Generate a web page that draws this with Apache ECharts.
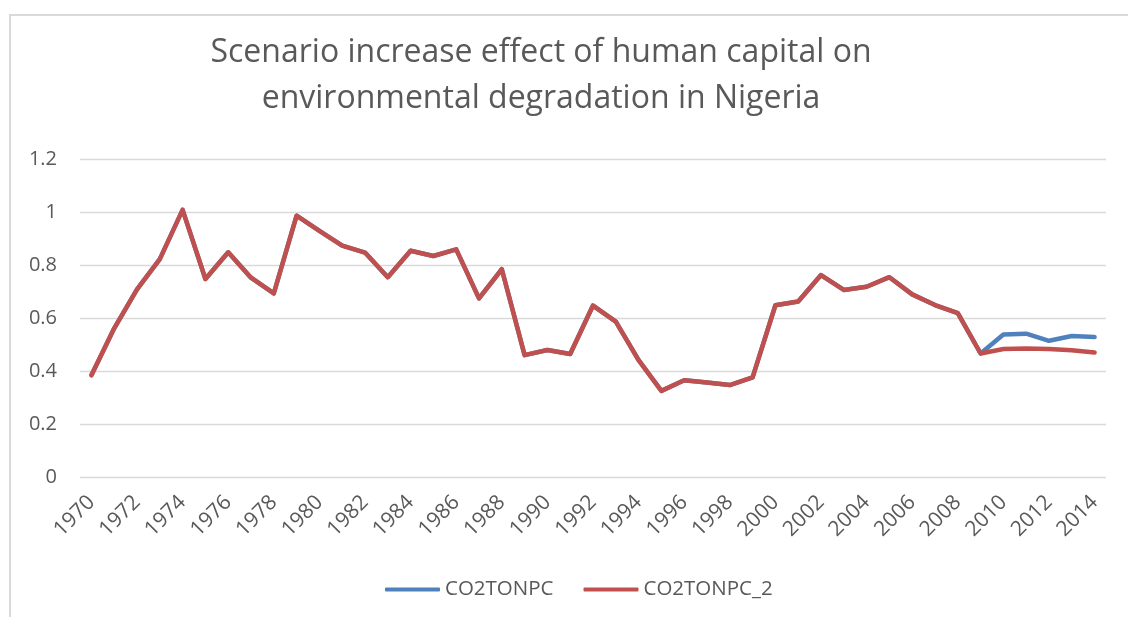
<!DOCTYPE html>
<html>
<head>
<meta charset="utf-8">
<script src="https://cdn.jsdelivr.net/npm/echarts@6/dist/echarts.min.js"></script>
<style>
html,body{margin:0;padding:0;background:#fff;}
#frame{position:absolute;left:9px;top:14px;width:1200px;height:700px;border-left:2px solid #d9d9d9;border-top:2px solid #d9d9d9;}
#chart{position:absolute;left:0;top:0;width:1128px;height:617px;}
</style>
</head>
<body>
<div id="frame"></div>
<div id="chart"></div>
<script>
const years = [];
for (let y = 1970; y <= 2014; y++) years.push(String(y));

const co2tonpc = [0.384,0.561,0.708,0.822,1.008,0.747,0.848,0.752,0.693,0.986,
  0.929,0.873,0.847,0.754,0.854,0.834,0.859,0.674,0.784,0.460,
  0.479,0.464,0.647,0.586,0.441,0.325,0.365,0.357,0.347,0.376,
  0.648,0.662,0.762,0.706,0.718,0.754,0.689,0.649,0.618,0.466,
  0.538,0.541,0.514,0.532,0.528];

const co2tonpc2 = [0.384,0.561,0.708,0.822,1.008,0.747,0.848,0.752,0.693,0.986,
  0.929,0.873,0.847,0.754,0.854,0.834,0.859,0.674,0.784,0.460,
  0.479,0.464,0.647,0.586,0.441,0.325,0.365,0.357,0.347,0.376,
  0.648,0.662,0.762,0.706,0.718,0.754,0.689,0.649,0.618,0.466,
  0.483,0.485,0.483,0.478,0.470];

const titleLines = "Scenario increase effect of human capital on\nenvironmental degradation in Nigeria";

const chart = echarts.init(document.getElementById('chart'), null, {renderer:'canvas'});
const textColor = '#595959';
chart.setOption({
  backgroundColor: 'transparent',
  animation: false,
  title: {
    text: titleLines,
    left: 536, top: 25, textAlign: 'center',
    textStyle: {fontFamily: 'Open Sans', fontWeight: 'normal', fontSize: 32, color: textColor, lineHeight: 46}
  },
  legend: {
    top: 574, left: 380,
    itemWidth: 55, itemHeight: 4, itemGap: 30,
    icon: 'roundRect',
    textStyle: {fontFamily: 'Open Sans', fontSize: 20.5, color: textColor},
    data: ['CO2TONPC','CO2TONPC_2']
  },
  grid: {left: 80, right: 22, top: 159, bottom: 140, containLabel: false},
  xAxis: {
    type: 'category', data: years, boundaryGap: true,
    axisLine: {show: false}, axisTick: {show: false},
    axisLabel: {interval: 1, rotate: 45, fontFamily: 'Open Sans', fontSize: 21, color: textColor, margin: 22}
  },
  yAxis: {
    type: 'value', min: 0, max: 1.2, interval: 0.2,
    axisLine: {show: false}, axisTick: {show: false},
    axisLabel: {fontFamily: 'Open Sans', fontSize: 20, color: textColor, margin: 23,
      formatter: v => String(Math.round(v*10)/10)},
    splitLine: {lineStyle: {color: '#d9d9d9', width: 1.3}}
  },
  series: [
    {name: 'CO2TONPC', type: 'line', data: co2tonpc, showSymbol: false, symbol: 'none',
      itemStyle: {color: '#4f81bd'}, lineStyle: {width: 4.5, color: '#4f81bd', cap: 'round', join: 'round'}},
    {name: 'CO2TONPC_2', type: 'line', data: co2tonpc2, showSymbol: false, symbol: 'none',
      itemStyle: {color: '#c0504d'}, lineStyle: {width: 4.5, color: '#c0504d', cap: 'round', join: 'round'}}
  ]
});
</script>
</body>
</html>
